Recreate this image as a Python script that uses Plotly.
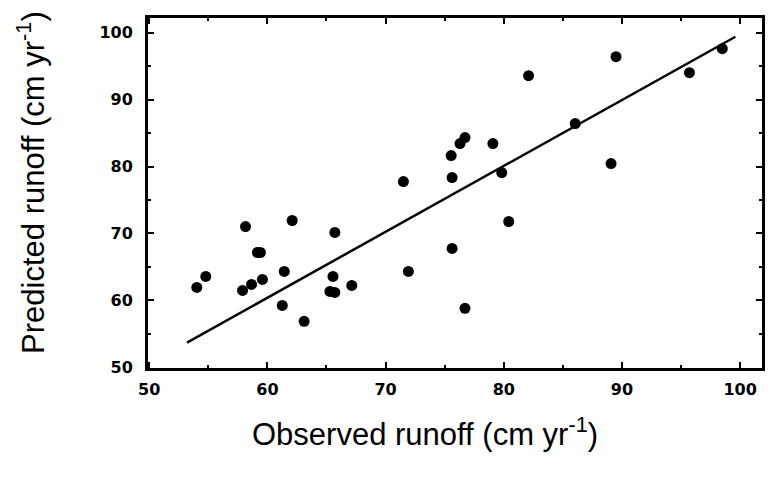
import plotly.graph_objects as go

observed = [54.03, 54.79, 57.90, 58.15, 58.66, 59.16, 59.41, 59.58, 61.26, 61.43,
            62.10, 63.11, 65.29, 65.55, 65.71, 65.71, 67.14, 71.51, 71.93, 75.55,
            75.63, 75.63, 76.30, 76.72, 76.72, 79.08, 79.83, 80.42, 82.10, 86.05,
            89.08, 89.50, 95.71, 98.49]
predicted = [61.94, 63.58, 61.49, 71.04, 62.39, 67.16, 67.16, 63.13, 59.25, 64.33,
             71.94, 56.87, 61.34, 63.58, 61.19, 70.15, 62.24, 77.76, 64.33, 81.64,
             78.36, 67.76, 83.43, 84.33, 58.81, 83.43, 79.10, 71.79, 93.58, 86.42,
             80.45, 96.42, 94.03, 97.61]
fit_x = [53.2, 99.6]
fit_y = [53.7, 99.4]
tick_vals = [50, 60, 70, 80, 90, 100]

fig = go.Figure()
fig.add_trace(go.Scatter(x=fit_x, y=fit_y, mode="lines",
                         line=dict(color="black", width=2.5), showlegend=False))
fig.add_trace(go.Scatter(x=observed, y=predicted, mode="markers",
                         marker=dict(color="black", size=11, symbol="circle"),
                         showlegend=False))

tickfont = dict(family="DejaVu Sans", size=16, color="black", weight="bold")
axis_common = dict(showgrid=False, zeroline=False, showline=True, linecolor="black",
                   linewidth=3, mirror="allticks", ticks="inside", ticklen=6,
                   tickwidth=1.5, tickcolor="black", tickvals=tick_vals,
                   tickfont=tickfont,
                   minor=dict(dtick=5, ticks="inside", ticklen=3, tickwidth=1.5,
                              tickcolor="black", showgrid=False))

fig.update_xaxes(range=[49.9, 101.85], ticklabelstandoff=5, **axis_common)
fig.update_yaxes(range=[49.9, 102.2], ticklabelstandoff=9, **axis_common)

fig.add_annotation(text="Observed runoff (cm yr<sup>-1</sup>)", xref="paper", yref="paper",
                   x=0.4506, y=-0.183, showarrow=False, xanchor="center", yanchor="middle",
                   font=dict(family="Liberation Sans", size=31, color="black"))
fig.add_annotation(text="Predicted runoff (cm yr<sup>-1</sup>)", xref="paper", yref="paper",
                   x=-0.191, y=0.531, showarrow=False, xanchor="center", yanchor="middle",
                   textangle=-90,
                   font=dict(family="Liberation Sans", size=31, color="black"))

fig.update_layout(width=768, height=477, margin=dict(l=148, r=3, t=18, b=109),
                  plot_bgcolor="white", paper_bgcolor="white")
fig.write_html("out.html")
